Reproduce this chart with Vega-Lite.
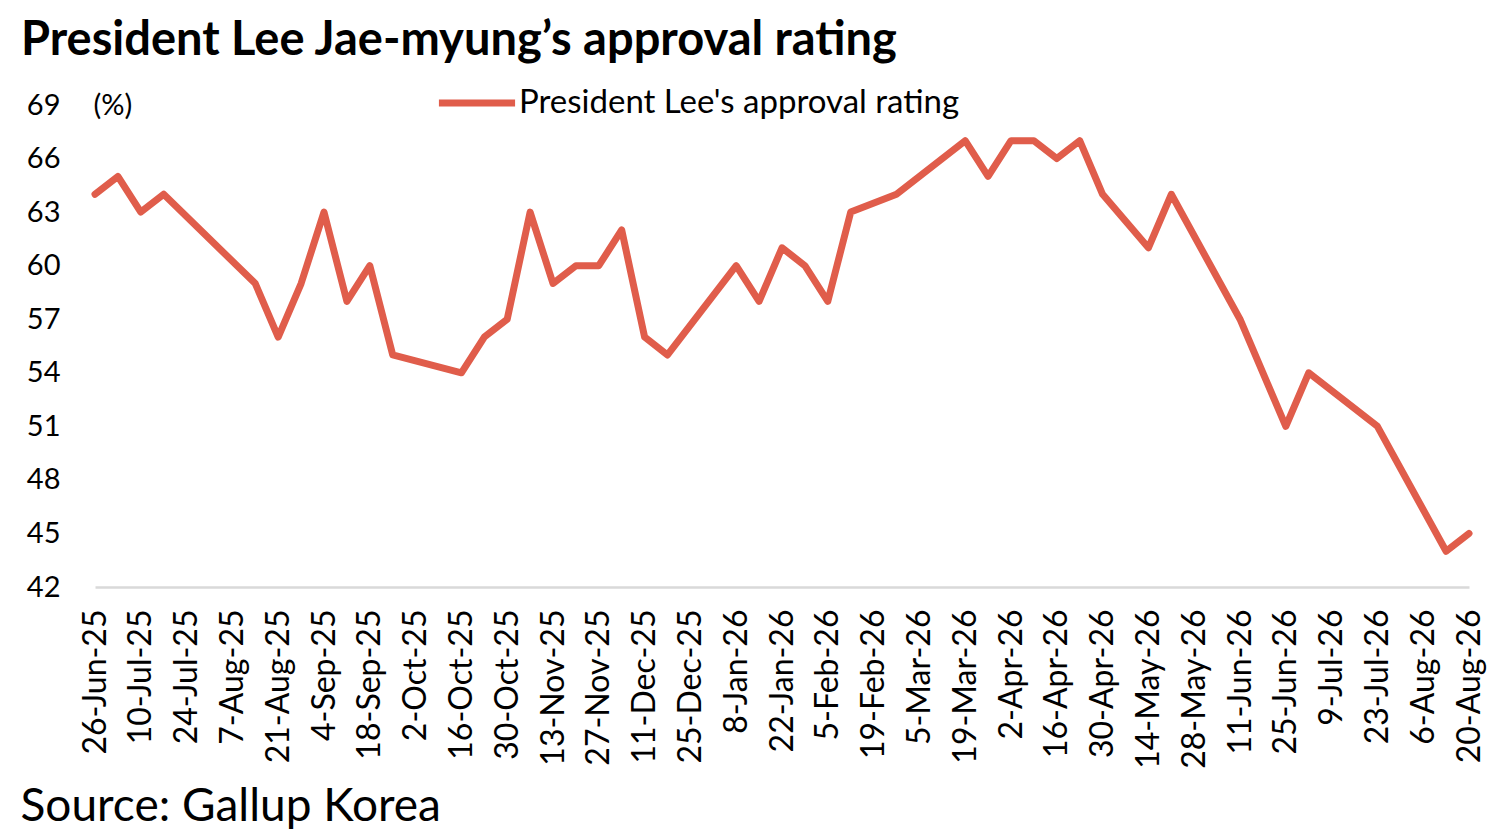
{
  "$schema": "https://vega.github.io/schema/vega-lite/v6.json",
  "autosize": "none",
  "width": 1374,
  "height": 482,
  "padding": {"left": 95, "top": 105, "right": 28, "bottom": 248},
  "background": "white",
  "config": {"font": "Lato", "view": {"stroke": null}},
  "title": {
    "text": "President Lee Jae-myung’s approval rating",
    "anchor": "start",
    "frame": "group",
    "dx": -74,
    "offset": -4,
    "fontSize": 47,
    "fontWeight": "bold",
    "color": "#000000",
    "font": "Lato"
  },
  "data": {
    "values": [
      {"date": "2025-06-26", "rating": 64},
      {"date": "2025-07-03", "rating": 65},
      {"date": "2025-07-10", "rating": 63},
      {"date": "2025-07-17", "rating": 64},
      {"date": "2025-08-14", "rating": 59},
      {"date": "2025-08-21", "rating": 56},
      {"date": "2025-08-28", "rating": 59},
      {"date": "2025-09-04", "rating": 63},
      {"date": "2025-09-11", "rating": 58},
      {"date": "2025-09-18", "rating": 60},
      {"date": "2025-09-25", "rating": 55},
      {"date": "2025-10-16", "rating": 54},
      {"date": "2025-10-23", "rating": 56},
      {"date": "2025-10-30", "rating": 57},
      {"date": "2025-11-06", "rating": 63},
      {"date": "2025-11-13", "rating": 59},
      {"date": "2025-11-20", "rating": 60},
      {"date": "2025-11-27", "rating": 60},
      {"date": "2025-12-04", "rating": 62},
      {"date": "2025-12-11", "rating": 56},
      {"date": "2025-12-18", "rating": 55},
      {"date": "2026-01-08", "rating": 60},
      {"date": "2026-01-15", "rating": 58},
      {"date": "2026-01-22", "rating": 61},
      {"date": "2026-01-29", "rating": 60},
      {"date": "2026-02-05", "rating": 58},
      {"date": "2026-02-12", "rating": 63},
      {"date": "2026-02-26", "rating": 64},
      {"date": "2026-03-19", "rating": 67},
      {"date": "2026-03-26", "rating": 65},
      {"date": "2026-04-02", "rating": 67},
      {"date": "2026-04-09", "rating": 67},
      {"date": "2026-04-16", "rating": 66},
      {"date": "2026-04-23", "rating": 67},
      {"date": "2026-04-30", "rating": 64},
      {"date": "2026-05-14", "rating": 61},
      {"date": "2026-05-21", "rating": 64},
      {"date": "2026-06-11", "rating": 57},
      {"date": "2026-06-25", "rating": 51},
      {"date": "2026-07-02", "rating": 54},
      {"date": "2026-07-23", "rating": 51},
      {"date": "2026-08-13", "rating": 44},
      {"date": "2026-08-20", "rating": 45}
    ]
  },
  "mark": {"type": "line", "strokeWidth": 7, "strokeCap": "round", "strokeJoin": "round"},
  "encoding": {
    "x": {
      "field": "date",
      "type": "temporal",
      "scale": {"type": "utc", "domain": [{"year": 2025, "month": 6, "date": 26, "utc": true}, {"year": 2026, "month": 8, "date": 20, "utc": true}]},
      "axis": {
        "title": "Source: Gallup Korea",
        "titleX": -75,
        "titleY": 233,
        "titleAlign": "left",
        "titleAnchor": "start",
        "titleBaseline": "alphabetic",
        "titleFontSize": 46,
        "titleFontWeight": "normal",
        "titleColor": "#000000",
        "titleFont": "Lato",
        "labelExpr": "utcFormat(datum.value, '%-d-%b-%y')",
        "labelAngle": -90,
        "labelFontSize": 32,
        "labelColor": "#000000",
        "labelPadding": 22,
        "labelOverlap": false,
        "labelFlush": false,
        "labelBound": false,
        "ticks": false,
        "grid": false,
        "domainColor": "#d9d9d9",
        "domainWidth": 2.5,
        "values": [
          {"year": 2025, "month": 6, "date": 26, "utc": true},
          {"year": 2025, "month": 7, "date": 10, "utc": true},
          {"year": 2025, "month": 7, "date": 24, "utc": true},
          {"year": 2025, "month": 8, "date": 7, "utc": true},
          {"year": 2025, "month": 8, "date": 21, "utc": true},
          {"year": 2025, "month": 9, "date": 4, "utc": true},
          {"year": 2025, "month": 9, "date": 18, "utc": true},
          {"year": 2025, "month": 10, "date": 2, "utc": true},
          {"year": 2025, "month": 10, "date": 16, "utc": true},
          {"year": 2025, "month": 10, "date": 30, "utc": true},
          {"year": 2025, "month": 11, "date": 13, "utc": true},
          {"year": 2025, "month": 11, "date": 27, "utc": true},
          {"year": 2025, "month": 12, "date": 11, "utc": true},
          {"year": 2025, "month": 12, "date": 25, "utc": true},
          {"year": 2026, "month": 1, "date": 8, "utc": true},
          {"year": 2026, "month": 1, "date": 22, "utc": true},
          {"year": 2026, "month": 2, "date": 5, "utc": true},
          {"year": 2026, "month": 2, "date": 19, "utc": true},
          {"year": 2026, "month": 3, "date": 5, "utc": true},
          {"year": 2026, "month": 3, "date": 19, "utc": true},
          {"year": 2026, "month": 4, "date": 2, "utc": true},
          {"year": 2026, "month": 4, "date": 16, "utc": true},
          {"year": 2026, "month": 4, "date": 30, "utc": true},
          {"year": 2026, "month": 5, "date": 14, "utc": true},
          {"year": 2026, "month": 5, "date": 28, "utc": true},
          {"year": 2026, "month": 6, "date": 11, "utc": true},
          {"year": 2026, "month": 6, "date": 25, "utc": true},
          {"year": 2026, "month": 7, "date": 9, "utc": true},
          {"year": 2026, "month": 7, "date": 23, "utc": true},
          {"year": 2026, "month": 8, "date": 6, "utc": true},
          {"year": 2026, "month": 8, "date": 20, "utc": true}
        ]
      }
    },
    "y": {
      "field": "rating",
      "type": "quantitative",
      "scale": {"domain": [42, 69], "nice": false, "zero": false},
      "axis": {
        "title": "(%)",
        "titleAngle": 0,
        "titleX": -2,
        "titleY": 0,
        "titleAlign": "left",
        "titleBaseline": "middle",
        "titleFontSize": 29,
        "titleFontWeight": "normal",
        "titleColor": "#000000",
        "titleFont": "Lato",
        "values": [42, 45, 48, 51, 54, 57, 60, 63, 66, 69],
        "labelFontSize": 29,
        "labelColor": "#000000",
        "labelPadding": 35,
        "ticks": false,
        "domain": false,
        "grid": false
      }
    },
    "color": {
      "datum": "President Lee's approval rating",
      "type": "nominal",
      "scale": {"range": ["#E05D4B"]},
      "legend": {
        "orient": "none",
        "legendX": 340,
        "legendY": -44,
        "title": null,
        "symbolType": "stroke",
        "symbolSize": 5800,
        "symbolStrokeWidth": 7,
        "labelFontSize": 33,
        "labelColor": "#000000",
        "labelFont": "Lato",
        "labelOffset": 0,
        "labelLimit": 700
      }
    }
  }
}
